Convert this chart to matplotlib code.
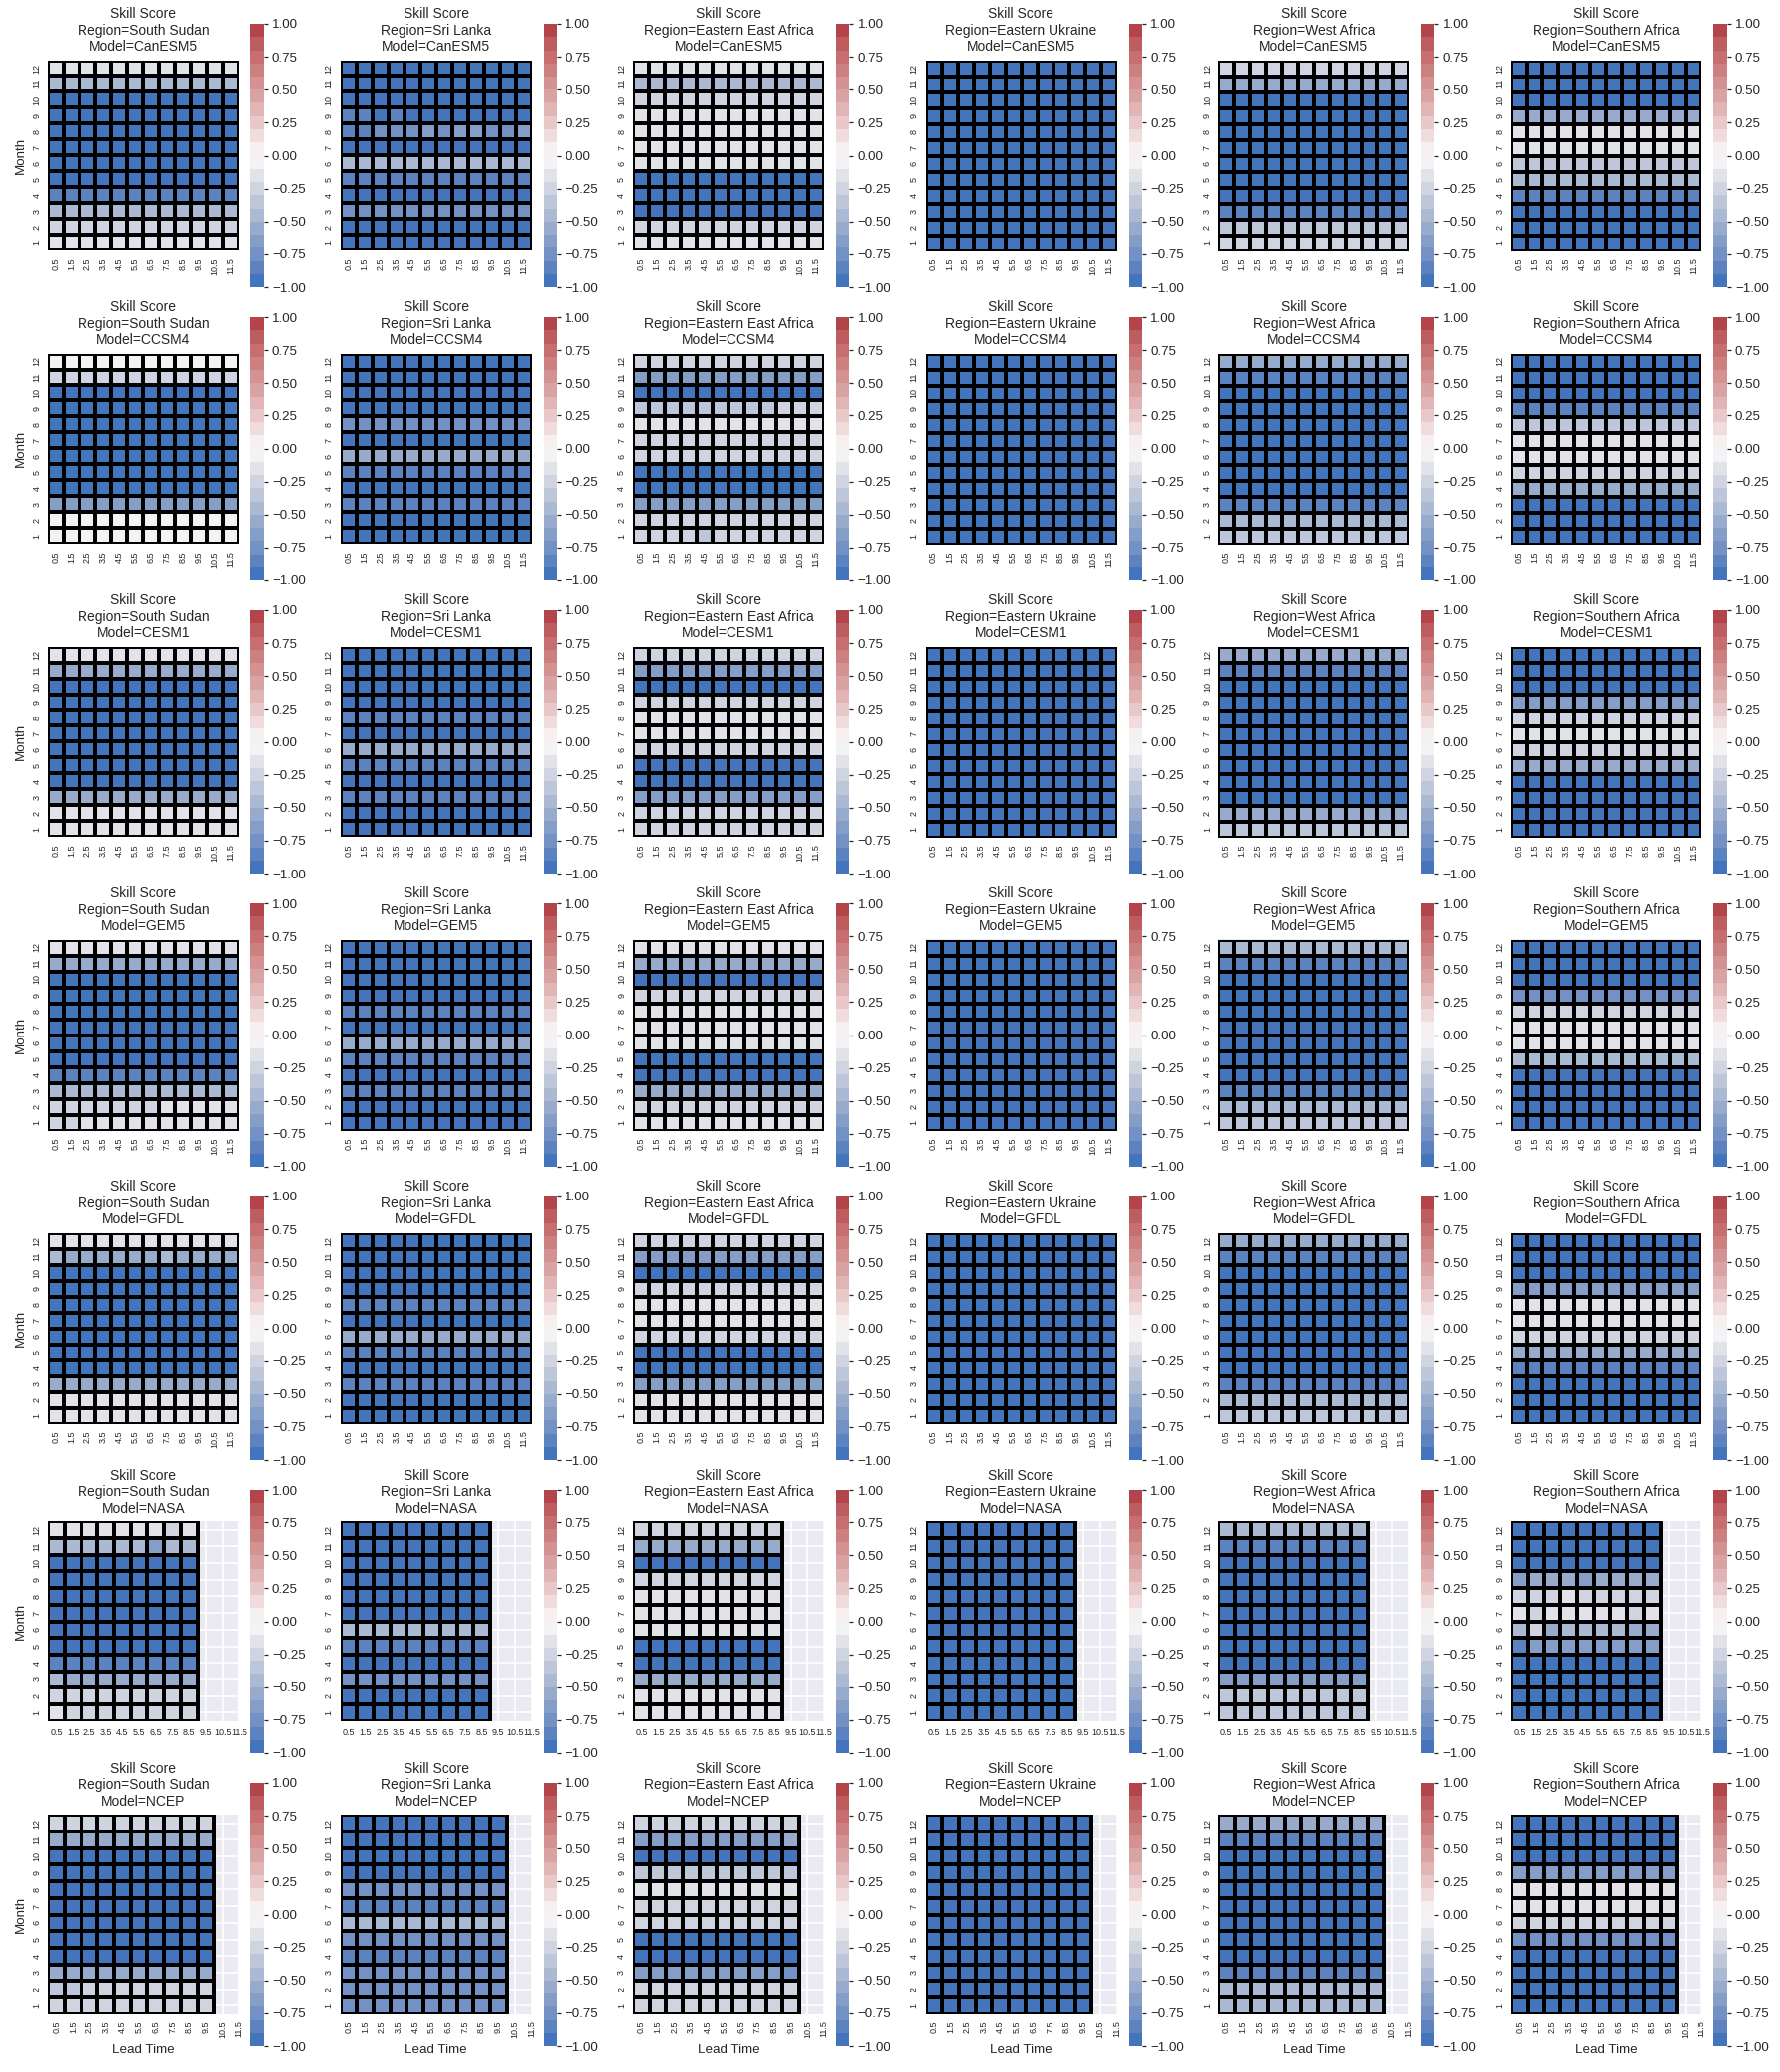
import matplotlib.pyplot as plt
import numpy as np
import seaborn as sns
from matplotlib.colors import ListedColormap

regions = ["South Sudan", "Sri Lanka", "Eastern East Africa",
           "Eastern Ukraine", "West Africa", "Southern Africa"]
models = ["CanESM5", "CCSM4", "CESM1", "GEM5", "GFDL", "NASA", "NCEP"]
lead_times = [0.5, 1.5, 2.5, 3.5, 4.5, 5.5, 6.5, 7.5, 8.5, 9.5, 10.5, 11.5]
months = [1, 2, 3, 4, 5, 6, 7, 8, 9, 10, 11, 12]
n_leads = [12, 12, 12, 12, 12, 9, 10]

# skill score per month (Jan..Dec), one row per region
canesm5 = [
    [-0.15, -0.22, -0.45, -0.85, -1, -1, -1, -1, -1, -1, -0.45, -0.12],
    [-1, -1, -0.75, -1, -0.8, -0.45, -1, -0.75, -0.88, -1, -1, -1],
    [-0.2, -0.3, -1, -1, -1, -0.2, -0.2, -0.15, -0.2, -0.25, -0.5, -0.2],
    [-1, -1, -1, -1, -1, -1, -1, -1, -1, -1, -1, -1],
    [-0.3, -0.35, -0.8, -1, -1, -1, -1, -1, -1, -1, -0.6, -0.25],
    [-1, -1, -1, -0.85, -0.5, -0.4, -0.2, -0.2, -0.55, -1, -1, -1],
]
ccsm4 = [
    [-0.05, -0.1, -0.7, -1, -1, -1, -1, -1, -1, -1, -0.25, -0.1],
    [-1, -1, -0.8, -1, -0.85, -0.55, -1, -0.75, -1, -1, -1, -1],
    [-0.25, -0.25, -0.65, -1, -1, -0.25, -0.25, -0.15, -0.35, -1, -0.65, -0.25],
    [-1, -1, -1, -1, -1, -1, -1, -1, -1, -1, -1, -1],
    [-0.35, -0.5, -0.85, -1, -1, -1, -1, -1, -1, -1, -0.8, -0.6],
    [-1, -1, -1, -0.55, -0.25, -0.15, -0.15, -0.35, -0.85, -1, -1, -1],
]
cesm1 = [
    [-0.15, -0.2, -0.6, -1, -1, -1, -1, -1, -1, -1, -0.55, -0.2],
    [-1, -1, -0.8, -1, -0.85, -0.6, -1, -0.8, -1, -1, -1, -1],
    [-0.25, -0.25, -0.7, -1, -1, -0.25, -0.2, -0.15, -0.3, -1, -0.65, -0.25],
    [-1, -1, -1, -1, -1, -1, -1, -1, -1, -1, -1, -1],
    [-0.35, -0.55, -1, -1, -1, -1, -1, -1, -1, -1, -0.85, -0.55],
    [-1, -1, -1, -0.9, -0.55, -0.25, -0.15, -0.3, -0.7, -1, -1, -1],
]
gem5 = [
    [-0.2, -0.2, -0.45, -0.8, -1, -1, -1, -1, -1, -1, -0.55, -0.15],
    [-1, -1, -0.8, -1, -0.85, -0.55, -1, -0.85, -1, -1, -1, -1],
    [-0.2, -0.25, -0.6, -1, -1, -0.2, -0.2, -0.15, -0.3, -1, -0.6, -0.2],
    [-1, -1, -1, -1, -1, -1, -1, -1, -1, -1, -1, -1],
    [-0.35, -0.45, -0.85, -1, -1, -1, -1, -1, -1, -1, -0.85, -0.5],
    [-1, -1, -1, -0.9, -0.5, -0.2, -0.15, -0.25, -0.75, -1, -1, -1],
]
gfdl = [
    [-0.15, -0.2, -0.55, -1, -1, -1, -1, -1, -1, -1, -0.55, -0.15],
    [-1, -1, -0.8, -1, -0.85, -0.6, -1, -0.8, -1, -1, -1, -1],
    [-0.2, -0.2, -0.65, -1, -1, -0.25, -0.2, -0.15, -0.3, -1, -0.65, -0.25],
    [-1, -1, -1, -1, -1, -1, -1, -1, -1, -1, -1, -1],
    [-0.4, -0.5, -0.85, -1, -1, -1, -1, -1, -1, -1, -0.85, -0.6],
    [-1, -1, -1, -0.8, -0.55, -0.25, -0.12, -0.15, -0.65, -1, -1, -1],
]
nasa = [
    [-0.2, -0.25, -0.55, -0.85, -1, -1, -1, -1, -1, -1, -0.45, -0.15],
    [-1, -1, -0.75, -1, -0.85, -0.45, -1, -1, -1, -1, -1, -1],
    [-0.2, -0.2, -0.55, -1, -1, -0.2, -0.2, -0.15, -0.3, -1, -0.55, -0.3],
    [-1, -1, -1, -1, -1, -1, -1, -1, -1, -1, -1, -1],
    [-0.35, -0.4, -0.7, -1, -1, -1, -1, -1, -1, -1, -0.85, -0.5],
    [-1, -1, -1, -1, -0.75, -0.45, -0.15, -0.25, -0.6, -1, -1, -1],
]
ncep = [
    [-0.22, -0.25, -0.55, -1, -1, -1, -1, -1, -1, -1, -0.55, -0.22],
    [-0.75, -0.75, -0.75, -0.85, -0.75, -0.5, -0.85, -0.75, -1, -1, -1, -1],
    [-0.25, -0.25, -0.65, -1, -1, -0.25, -0.25, -0.15, -0.35, -1, -0.65, -0.25],
    [-1, -1, -1, -1, -1, -1, -1, -1, -1, -1, -1, -1],
    [-0.45, -0.5, -0.85, -1, -1, -1, -1, -1, -1, -1, -0.85, -0.55],
    [-1, -1, -1, -1, -0.75, -0.3, -0.2, -0.2, -0.65, -1, -1, -1],
]
skill = [canesm5, ccsm4, cesm1, gem5, gfdl, nasa, ncep]

# months whose cells differ along lead time: (model, region, month) -> per lead
lead_detail = {
    ("CanESM5", "Sri Lanka", 9): [-0.85, -0.85, -1, -0.85, -1, -1, -1, -1, -1, -1, -1, -1],
    ("CanESM5", "Sri Lanka", 8): [-0.85, -0.85, -0.75, -0.75, -0.75, -0.7, -0.75, -0.7, -0.7, -0.75, -0.75, -0.7],
    ("CCSM4", "Eastern East Africa", 9): [-0.35] * 9 + [-0.25, -0.25, -0.25],
    ("CCSM4", "Eastern East Africa", 1): [-0.25] * 4 + [-0.35] + [-0.25] * 7,
    ("GEM5", "South Sudan", 2): [-0.25] * 7 + [-0.15] * 5,
    ("GEM5", "South Sudan", 1): [-0.25, -0.25] + [-0.15] * 10,
    ("GFDL", "South Sudan", 11): [-0.45] + [-0.55] * 6 + [-0.45] + [-0.55] * 4,
    ("NASA", "South Sudan", 12): [-0.15] * 7 + [-0.25, -0.15],
    ("NASA", "South Sudan", 11): [-0.45] * 6 + [-0.65, -0.45, -0.45],
    ("NASA", "South Sudan", 3): [-0.45] + [-0.55] * 8,
    ("NASA", "South Sudan", 1): [-0.15] + [-0.25] * 8,
    ("NASA", "Southern Africa", 9): [-0.7, -0.55, -0.55, -0.6, -0.7, -0.55, -0.6, -0.55, -0.55],
    ("NASA", "Southern Africa", 8): [-0.25, -0.25, -0.25, -0.15, -0.25, -0.25, -0.25, -0.25, -0.25],
    ("NASA", "Southern Africa", 7): [-0.15, -0.25, -0.15, -0.15, -0.15, -0.12, -0.12, -0.25, -0.15],
    ("NASA", "Southern Africa", 6): [-0.45, -0.25, -0.55, -0.45, -0.45, -0.45, -0.45, -0.55, -0.55],
    ("NASA", "Southern Africa", 5): [-0.8] + [-0.7] * 8,
    ("NCEP", "South Sudan", 2): [-0.35, -0.35] + [-0.25] * 8,
    ("NCEP", "Eastern East Africa", 11): [-0.65] * 9 + [-0.55],
    ("NCEP", "Eastern East Africa", 3): [-0.65] * 9 + [-0.75],
}

# 20 discrete steps from -1 to 1, blue through light grey to red
palette = [
    "#4474BC", "#5C82C0", "#7391C4", "#859EC8", "#98ABCD",
    "#ACB9D3", "#BEC6D9", "#D0D4E1", "#E2E3E9", "#F3F2F4",
    "#F7F0F0", "#F0DCDC", "#E8C8C8", "#E1B5B5", "#DAA3A3",
    "#D49292", "#CD8080", "#C66E70", "#BE5D60", "#B2444A",
]

sns.set_theme(context="paper", style="darkgrid")
plt.rcParams["font.family"] = ["Liberation Sans", "DejaVu Sans"]

cmap = ListedColormap(palette)

W, H = 1791, 2085
fig = plt.figure(figsize=(W / 100, H / 100), dpi=100)

for i, model in enumerate(models):
    n = n_leads[i]
    for j, region in enumerate(regions):
        grid = np.repeat(np.array(skill[i][j], dtype=float)[:, None], n, axis=1)
        for m in months:
            if (model, region, m) in lead_detail:
                grid[m - 1] = lead_detail[(model, region, m)]
        grid = grid[::-1]  # month 12 at the top

        left = 48.3 + 294.4 * j
        top = 24 + 295 * i
        ax = fig.add_axes([left / W, 1 - (top + 265) / H, 192 / W, 265 / H])
        cax = fig.add_axes([(left + 204) / W, 1 - (top + 265) / H, 13.3 / W, 265 / H])
        ax.set_facecolor("#EAEAF2")
        sns.heatmap(grid, ax=ax, cbar_ax=cax, cmap=cmap, vmin=-1, vmax=1,
                    square=True, linewidths=1.5, linecolor="black")
        ax.set_xlim(0, 12 if n == 12 else 11.5)
        ax.set_ylim(12, 0)
        ax.set_axisbelow(True)
        ax.grid(True, color="white", linewidth=1.2)
        ax.set_xticks(np.arange(12) + 0.5)
        ax.set_yticks(np.arange(12) + 0.5)
        ax.set_yticklabels(months[::-1], rotation=90, va="center", fontsize=6.5)
        ax.set_xticklabels(lead_times, rotation=0 if model == "NASA" else 90,
                           fontsize=6.5)
        ax.tick_params(axis="both", length=0, pad=5)
        ax.set_title(f"Skill Score\nRegion={region}\nModel={model}", fontsize=10,
                     pad=7)
        ax.set_xlabel("Lead Time" if i == len(models) - 1 else "", fontsize=9.6)
        ax.set_ylabel("Month" if j == 0 else "", fontsize=9.6)
        cax.set_yticks([-1, -0.75, -0.5, -0.25, 0, 0.25, 0.5, 0.75, 1])
        cax.tick_params(labelsize=9.6, right=True, length=3, width=0.9,
                        color="0.15", pad=3)

fig.savefig("out.png", dpi=100)
